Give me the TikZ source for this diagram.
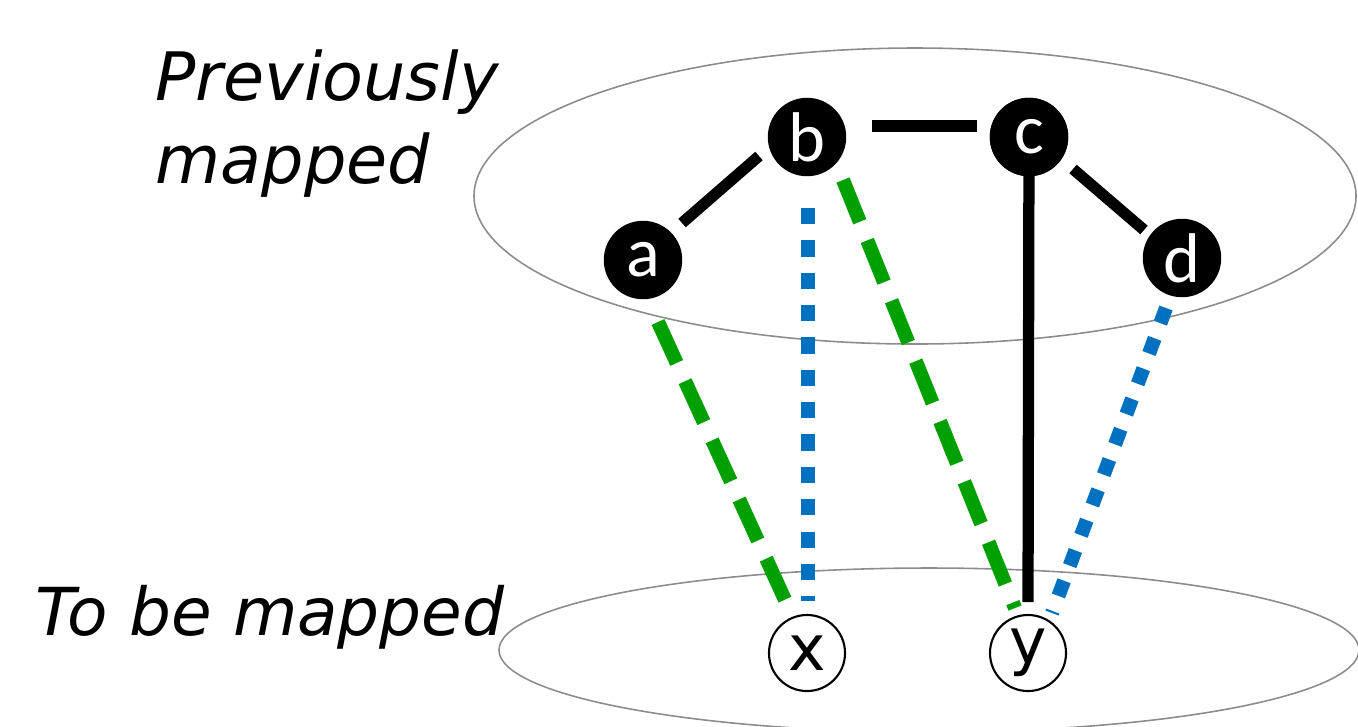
\documentclass[tikz,border=0pt]{standalone}
\usepackage{fontspec}
\setmainfont{DejaVu Sans}
\newfontfamily\nodefont{Carlito}
\definecolor{mgreen}{RGB}{0,160,0}
\definecolor{mblue}{RGB}{0,112,192}
\definecolor{mgray}{RGB}{140,140,140}
\begin{document}
\begin{tikzpicture}[x=0.01cm,y=-0.01cm,
  bnode/.style={circle,fill=black,draw=black,minimum size=0.77cm,inner sep=0pt,text=white,font=\nodefont\fontsize{20}{20}\selectfont},
  wnode/.style={circle,fill=white,draw=black,line width=0.6pt,minimum size=0.76cm,inner sep=0pt,text=black,font=\fontsize{18}{18}\selectfont},
  edge/.style={line width=3.2pt,black},
  gdash/.style={line width=4pt,mgreen,dash pattern=on 12.8pt off 5.7pt},
  bdot/.style={line width=4pt,mblue,dash pattern=on 4.6pt off 4.6pt},
  ell/.style={draw=mgray,line width=0.45pt},
  lab/.style={anchor=base west,inner sep=0pt,font=\fontsize{19}{23}\selectfont\itshape}]
\useasboundingbox (0,0) rectangle (1358,726);
\draw[ell] (915,196) ellipse [x radius=441, y radius=148];
\draw[ell] (929,650) ellipse [x radius=430, y radius=82];
\node[lab] (l1) at (155,100) {Previously};
\node[lab] (l2) at (155,183) {mapped};
\node[lab,font=\fontsize{18.8}{23}\selectfont\itshape] (l3) at (35,635) {To be mapped};
\node[bnode] (a) at (643,260) {a};
\node[bnode] (b) at (807,137) {b};
\node[bnode] (c) at (1029,137) {c};
\node[bnode] (d) at (1182,258) {d};
\node[wnode] (x) at (807,653) {x};
\node[wnode] (y) at (1028,653) {y};
\coordinate (ab1) at (682,223); \coordinate (ab2) at (759,156);
\coordinate (bc1) at (872,126); \coordinate (bc2) at (977,126);
\coordinate (cd1) at (1073,169); \coordinate (cd2) at (1144,230);
\coordinate (cy2) at (1028,602);
\coordinate (ax1) at (658,322); \coordinate (ax2) at (786,602);
\coordinate (by1) at (843,180); \coordinate (by2) at (1015,608);
\coordinate (bx1) at (808,208); \coordinate (bx2) at (808,601);
\coordinate (dy1) at (1166,308); \coordinate (dy2) at (1052,613);
\draw[edge] (ab1) -- (ab2);
\draw[edge] (bc1) -- (bc2);
\draw[edge] (cd1) -- (cd2);
\draw[edge] (c.center) -- (cy2);
\node[bnode] at (c) {c};
\draw[gdash] (ax1) -- (ax2);
\draw[gdash] (by1) -- (by2);
\draw[bdot] (bx1) -- (bx2);
\draw[bdot] (dy1) -- (dy2);
\end{tikzpicture}
\end{document}
